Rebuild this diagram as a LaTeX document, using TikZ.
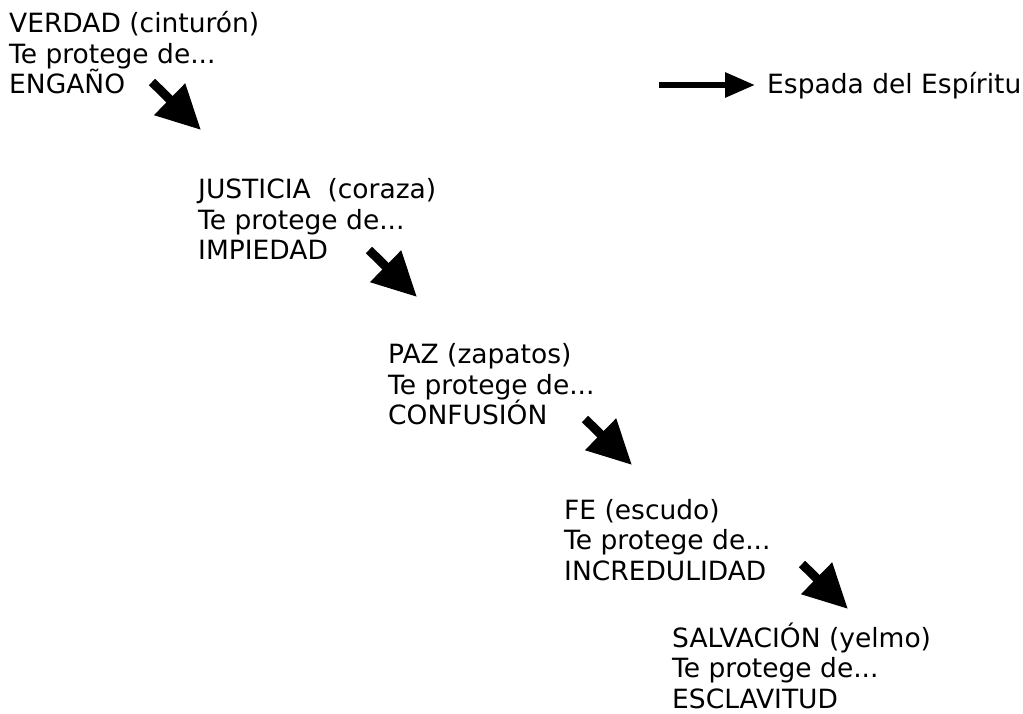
\documentclass[tikz,border=0pt]{standalone}
\usepackage{fontspec}
\setmainfont{DejaVu Sans}
\usetikzlibrary{arrows.meta}
\tikzset{
  block/.style={anchor=base west, inner sep=0pt, align=left,
    font=\fontsize{26.5}{30.5}\selectfont},
  bigarrow/.style={line width=9pt, line cap=butt,
    -{Triangle[length=44pt 0, width=42pt 0]}},
  sidearrow/.style={line width=6pt, line cap=butt,
    -{Triangle[length=30pt 0, width=24pt 0]}}
}
\begin{document}
\begin{tikzpicture}[x=1pt,y=-1pt]
\useasboundingbox (0,0) rectangle (1023,714);
% anchor base west = baseline of the last line
\node[block] (b1) at (9,94) {VERDAD (cinturón)\\Te protege de...\\ENGAÑO};
\node[block] (b2) at (198,259.5) {JUSTICIA\ \ (coraza)\\Te protege de...\\IMPIEDAD};
\node[block] (b3) at (388,424.5) {PAZ (zapatos)\\Te protege de...\\CONFUSIÓN};
\node[block] (b4) at (564,580) {FE (escudo)\\Te protege de...\\INCREDULIDAD};
\node[block] (b5) at (672,708) {SALVACIÓN (yelmo)\\Te protege de...\\ESCLAVITUD};
\node[block] (espada) at (767,94) {Espada del Espíritu};
\coordinate (a1s) at (152,82);  \coordinate (a1e) at (201,130);
\coordinate (a2s) at (369,250); \coordinate (a2e) at (417,297);
\coordinate (a3s) at (585,419); \coordinate (a3e) at (632,465);
\coordinate (a4s) at (802,564); \coordinate (a4e) at (848,609);
\coordinate (hs) at (659,85);   \coordinate (he) at (755,85);
\draw[bigarrow] (a1s) -- (a1e);
\draw[bigarrow] (a2s) -- (a2e);
\draw[bigarrow] (a3s) -- (a3e);
\draw[bigarrow] (a4s) -- (a4e);
\draw[sidearrow] (hs) -- (he);
\end{tikzpicture}
\end{document}
